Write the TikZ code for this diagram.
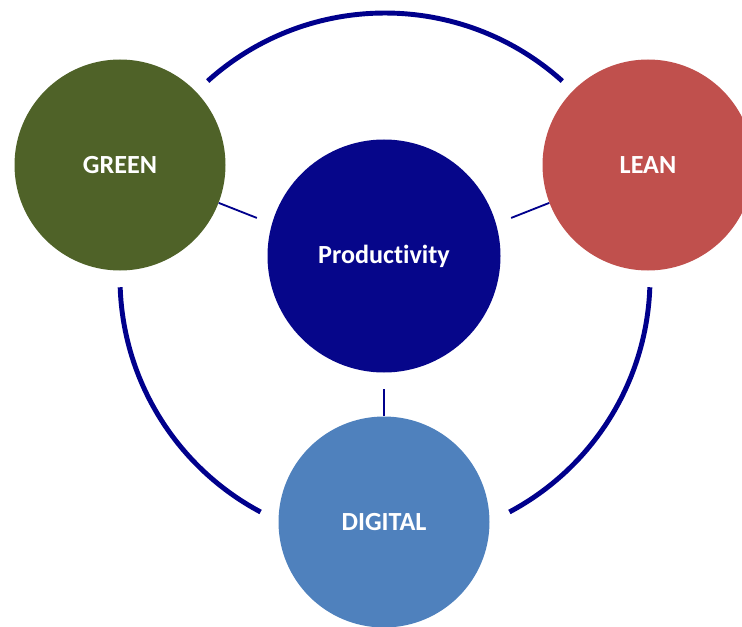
\documentclass[tikz,border=0pt]{standalone}
\usepackage{fontspec}
\setmainfont[Ligatures=NoCommon]{Carlito}
\definecolor{greenfill}{HTML}{4F6228}
\definecolor{leanfill}{HTML}{C0504D}
\definecolor{prodfill}{HTML}{06068A}
\definecolor{digitalfill}{HTML}{4F81BD}
\definecolor{ringblue}{HTML}{00008C}

\begin{document}
\begin{tikzpicture}[
	ball/.style={circle, minimum size=5.275cm, inner sep=0pt, text=white,
		font=\fontsize{18.6}{22}\selectfont\bfseries},
	ring/.style={draw=ringblue, line width=3.5pt},
	link/.style={draw=ringblue, line width=1.3pt, shorten >=0.4cm}]
	\useasboundingbox (0,0) rectangle (18.55,-15.675);
	\node[ball, fill=greenfill] (green) at (3,-4.125) {GREEN};
	\node[ball, fill=leanfill] (lean) at (16.2,-4.125) {LEAN};
	\node[ball, fill=prodfill, minimum size=5.825cm] (prod) at (9.6,-6.4) {Productivity};
	\node[ball, fill=digitalfill] (digital) at (9.6,-13.05) {DIGITAL};
	\coordinate (hub) at (9.625,-6.95);
	\draw[ring] (hub) ++(48:6.625) arc[start angle=48, end angle=132, radius=6.625];
	\draw[ring] (hub) ++(182:6.625) arc[start angle=182, end angle=242, radius=6.625];
	\draw[ring] (hub) ++(298:6.625) arc[start angle=298, end angle=358, radius=6.625];
	\draw[link] (green.-21) -- (prod.164);
	\draw[link] (lean.201) -- (prod.16);
	\draw[link] (digital.north) -- (prod.south);
\end{tikzpicture}
\end{document}
